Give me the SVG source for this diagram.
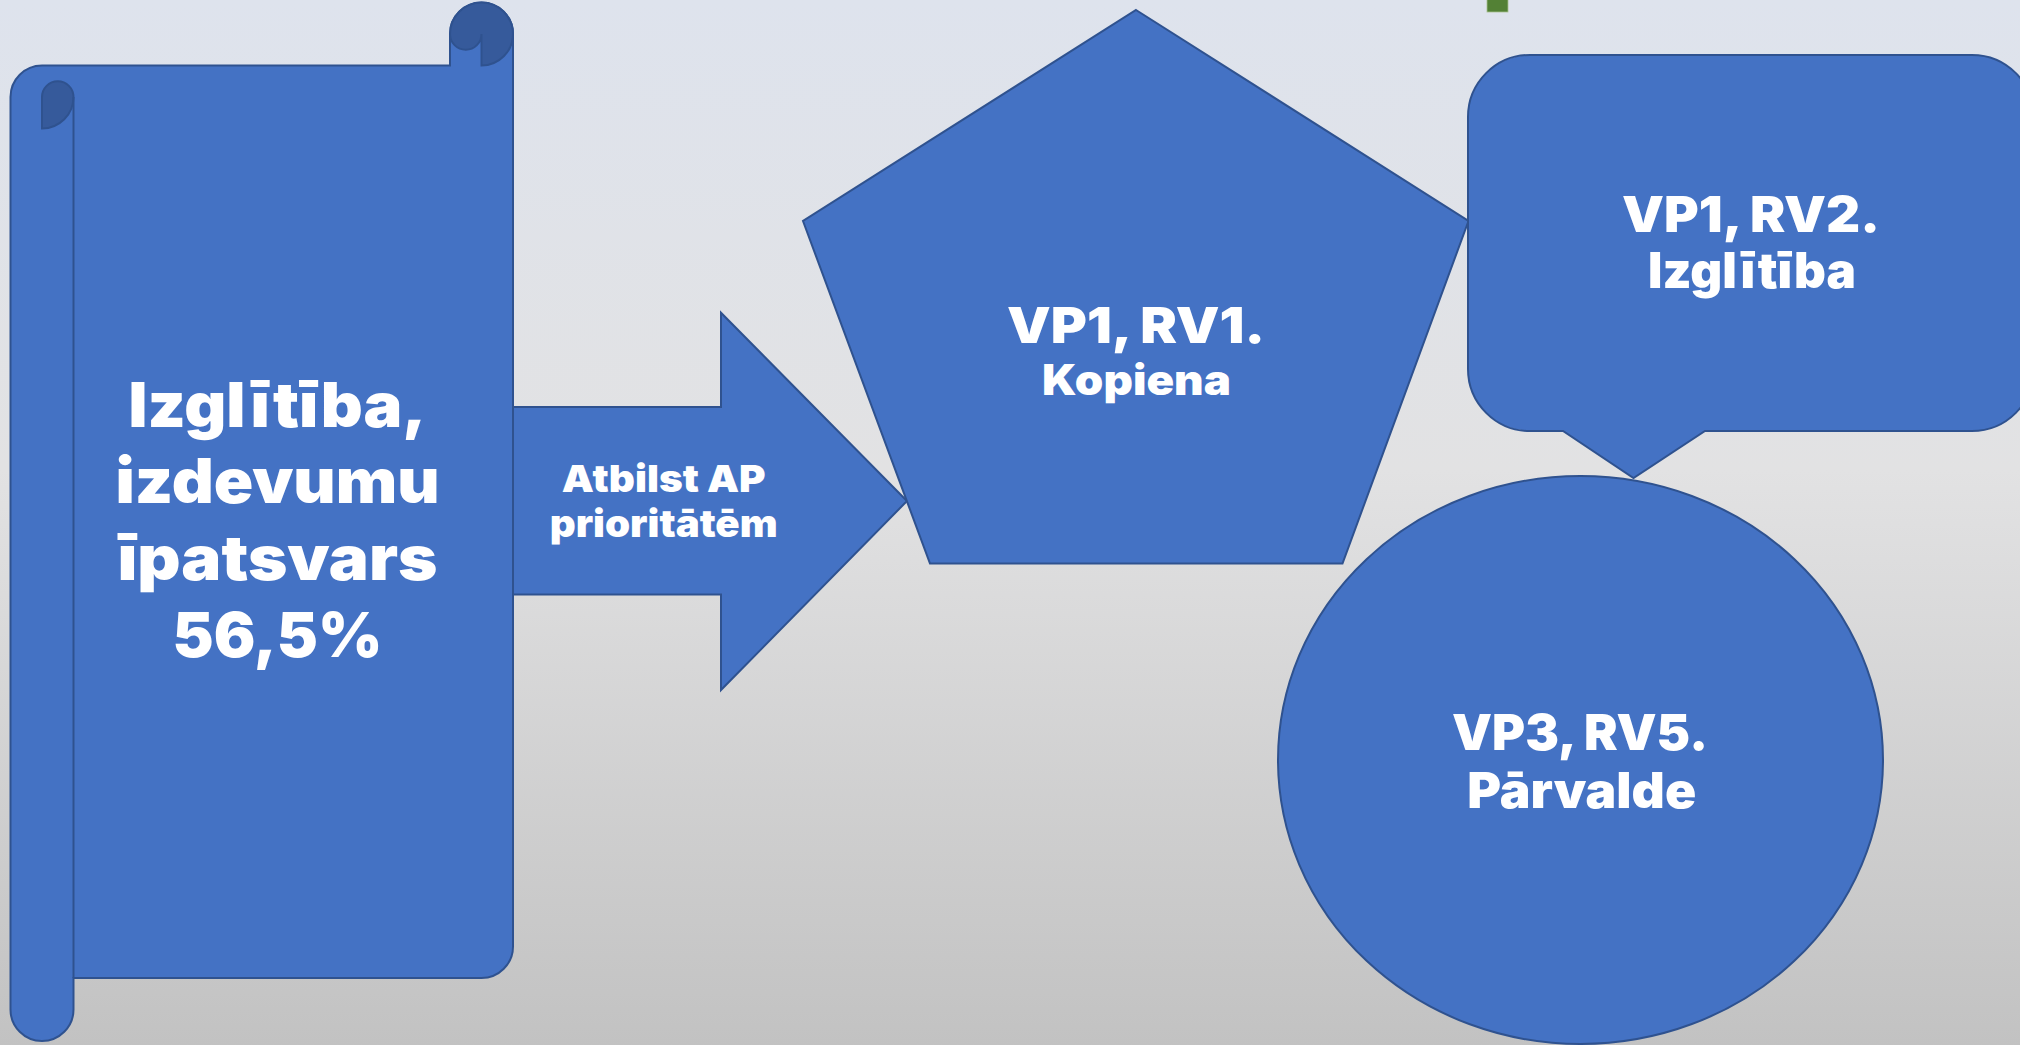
<svg xmlns="http://www.w3.org/2000/svg" width="2020" height="1045" viewBox="0 0 2020 1045">
<defs>
<linearGradient id="bg" x1="0" y1="0" x2="0" y2="1">
<stop offset="0" stop-color="#DEE3ED"/>
<stop offset="0.45" stop-color="#E2E2E3"/>
<stop offset="1" stop-color="#C2C2C2"/>
</linearGradient>
</defs>
<style>
.shape{fill:#4472C4;stroke:#2F528F;stroke-width:2;stroke-linejoin:miter}
.dark{fill:#365A9B;stroke:#2F528F;stroke-width:2}
.line{fill:none;stroke:#2F528F;stroke-width:2}
.t{fill:#FFFFFF;font-family:Inter,Lato,"Noto Sans","Liberation Sans",sans-serif;font-weight:900;text-anchor:middle}
</style>
<rect x="0" y="0" width="2020" height="1045" fill="url(#bg)"/>
<rect x="1487" y="-2" width="21" height="14" fill="#538135" stroke="#A9C08F" stroke-width="0.8"/>

<g id="scroll">
<path class="shape" d="M10.5,97 A31.5,31.5 0 0 1 42,65.5 L450,65.5 L450,34 A31.5,31.5 0 0 1 513,34 L513,946.5 A31.5,31.5 0 0 1 481.5,978 L73.5,978 L73.5,1009.5 A31.5,31.5 0 0 1 10.5,1009.5 Z"/>
<path class="dark" d="M450,34 A31.5,31.5 0 0 1 513,34 A31.5,31.5 0 0 1 481.5,65.5 L481.5,34 A15.75,15.75 0 0 1 450,34 Z"/>
<path class="dark" d="M42,97 A15.75,15.75 0 0 1 73.5,97 A31.5,31.5 0 0 1 42,128.5 Z"/>
<path class="line" d="M73.5,97 L73.5,978"/>
<text class="t" font-size="62" x="277.5" y="426.7" textLength="298" lengthAdjust="spacingAndGlyphs">Izglītība,</text>
<text class="t" font-size="62" x="277.5" y="503.3" textLength="324" lengthAdjust="spacingAndGlyphs">izdevumu</text>
<text class="t" font-size="62" x="277.5" y="580" textLength="320" lengthAdjust="spacingAndGlyphs">īpatsvars</text>
<text class="t" font-size="62" x="277.5" y="656.7" textLength="210" lengthAdjust="spacingAndGlyphs">56,5%</text>
</g>

<g id="arrow">
<polygon class="shape" points="513,407 721,407 721,312.7 907,501 721,690 721,594.5 513,594.5"/>
<text class="t" font-size="37.5" x="663.7" y="491.7" textLength="204" lengthAdjust="spacingAndGlyphs">Atbilst AP</text>
<text class="t" font-size="37.5" x="663.7" y="536.7" textLength="228" lengthAdjust="spacingAndGlyphs">prioritātēm</text>
</g>

<g id="pentagon">
<polygon class="shape" points="1136,10 1468.5,221 1342.5,563.5 930,563.5 803,221"/>
<text class="t" font-size="50" x="1136" y="343.3" textLength="258" lengthAdjust="spacingAndGlyphs">VP1, RV1.</text>
<text class="t" font-size="42" x="1136.5" y="395" textLength="189" lengthAdjust="spacingAndGlyphs">Kopiena</text>
</g>

<g id="callout">
<path class="shape" d="M1530,55 L1972,55 A62,62 0 0 1 2034,117 L2034,369 A62,62 0 0 1 1972,431 L1705,431 L1633.5,478 L1563,431 L1530,431 A62,62 0 0 1 1468,369 L1468,117 A62,62 0 0 1 1530,55 Z"/>
<text class="t" font-size="50" x="1751" y="231.7" textLength="258" lengthAdjust="spacingAndGlyphs">VP1, RV2.</text>
<text class="t" font-size="49" x="1752" y="288.3" textLength="208" lengthAdjust="spacingAndGlyphs">Izglītība</text>
</g>

<g id="circle">
<ellipse class="shape" cx="1580.5" cy="760" rx="302.5" ry="284"/>
<text class="t" font-size="50" x="1580" y="750" textLength="256" lengthAdjust="spacingAndGlyphs">VP3, RV5.</text>
<text class="t" font-size="49" x="1581.7" y="808.3" textLength="229" lengthAdjust="spacingAndGlyphs">Pārvalde</text>
</g>

<g id="connectors"></g>
</svg>
